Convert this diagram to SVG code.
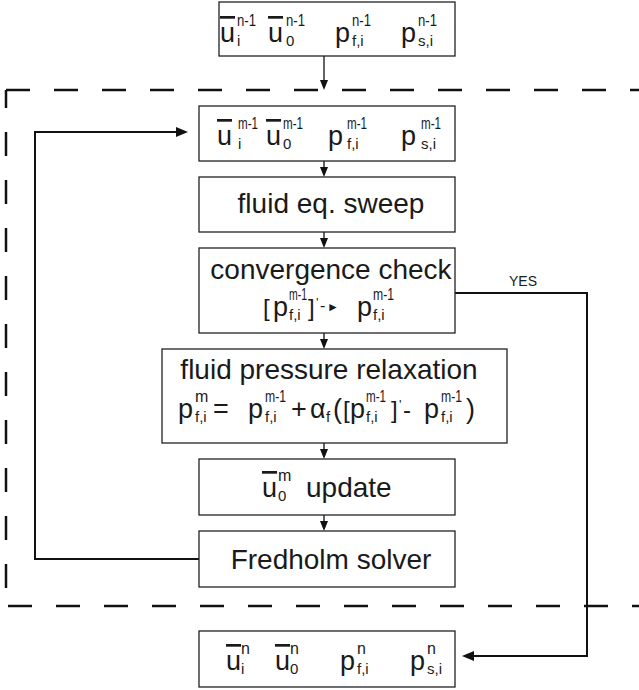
<svg xmlns="http://www.w3.org/2000/svg" width="639" height="690" viewBox="0 0 639 690">
<defs>
<style>
.box{fill:#fff;stroke:#222;stroke-width:1.3}
.t{font-family:"Liberation Sans",Arial,sans-serif;fill:#1a1a1a}
.lg{font-size:28px}
.v{font-size:27px}
.ov{text-decoration:overline}
.sp{font-size:16px}
.sb{font-size:15px}
.br{font-size:24px}
.c{fill:none;stroke:#111;stroke-width:1.3}
.ct{fill:none;stroke:#111;stroke-width:2}
.d{fill:none;stroke:#111;stroke-width:2.5;stroke-dasharray:24 24}
</style>
<marker id="ah" markerWidth="10" markerHeight="8" refX="7" refY="4" orient="auto" markerUnits="userSpaceOnUse"><path d="M0,0 L10,4 L0,8 z" fill="#111"/></marker>
<marker id="ahb" markerWidth="12" markerHeight="10" refX="8" refY="5" orient="auto" markerUnits="userSpaceOnUse"><path d="M0,0 L12,5 L0,10 z" fill="#111"/></marker>
</defs>
<rect width="639" height="690" fill="#fff"/>

<g id="iteration-boundary">
<path class="d" d="M6,90 H639"/>
<path class="d" d="M6,90 V606" stroke-dashoffset="6"/>
<path class="d" d="M8,606 H639"/>
</g>

<g id="connectors">
<path class="c" d="M324,56 V87" marker-end="url(#ah)"/>
<path class="c" d="M324,161 V174" marker-end="url(#ah)"/>
<path class="c" d="M324,232 V245" marker-end="url(#ah)"/>
<path class="c" d="M324,333 V346" marker-end="url(#ah)"/>
<path class="c" d="M324,443 V456" marker-end="url(#ah)"/>
<path class="c" d="M324,515 V528" marker-end="url(#ah)"/>
<path class="ct" d="M199,559 H35 V132 H184" marker-end="url(#ahb)"/>
<path class="ct" d="M455,293 H587 V656 H466" marker-end="url(#ahb)"/>
<text class="t" x="523" y="286" font-size="14" text-anchor="middle">YES</text>
</g>

<g id="state-n-1">
<rect class="box" x="219" y="2" width="236" height="54"/>
<text class="t v ov" x="220" y="42">u</text>
<text class="t sp" x="237" y="26" textLength="19" lengthAdjust="spacingAndGlyphs">n-1</text>
<text class="t sb" x="237" y="46">i</text>
<text class="t v ov" x="268" y="42">u</text>
<text class="t sp" x="286" y="26" textLength="19" lengthAdjust="spacingAndGlyphs">n-1</text>
<text class="t sb" x="286" y="46">0</text>
<text class="t v" x="335" y="42">p</text>
<text class="t sp" x="352" y="26" textLength="19" lengthAdjust="spacingAndGlyphs">n-1</text>
<text class="t sb" x="352" y="46">f,i</text>
<text class="t v" x="401" y="42">p</text>
<text class="t sp" x="418" y="26" textLength="19" lengthAdjust="spacingAndGlyphs">n-1</text>
<text class="t sb" x="418" y="46">s,i</text>
</g>

<g id="state-m-1">
<rect class="box" x="199" y="106" width="256" height="55"/>
<text class="t v ov" x="217" y="145">u</text>
<text class="t sp" x="238" y="129" textLength="20" lengthAdjust="spacingAndGlyphs">m-1</text>
<text class="t sb" x="238" y="149">i</text>
<text class="t v ov" x="266" y="145">u</text>
<text class="t sp" x="283" y="129" textLength="20" lengthAdjust="spacingAndGlyphs">m-1</text>
<text class="t sb" x="283" y="149">0</text>
<text class="t v" x="328" y="145">p</text>
<text class="t sp" x="347" y="129" textLength="20" lengthAdjust="spacingAndGlyphs">m-1</text>
<text class="t sb" x="347" y="149">f,i</text>
<text class="t v" x="401" y="145">p</text>
<text class="t sp" x="421" y="129" textLength="20" lengthAdjust="spacingAndGlyphs">m-1</text>
<text class="t sb" x="421" y="149">s,i</text>
</g>

<g id="fluid-sweep">
<rect class="box" x="199" y="177" width="256" height="55"/>
<text class="t lg" x="331" y="213" text-anchor="middle">fluid eq. sweep</text>
</g>

<g id="convergence-check">
<rect class="box" x="199" y="248" width="256" height="85"/>
<text class="t lg" x="331" y="279" text-anchor="middle">convergence check</text>
<text class="t br" x="263" y="316">[</text>
<text class="t v" x="273" y="316">p</text>
<text class="t sp" x="289" y="300" textLength="18" lengthAdjust="spacingAndGlyphs">m-1</text>
<text class="t sb" x="289" y="320">f,i</text>
<text class="t br" x="308" y="316">]</text>
<text class="t" x="316" y="307" font-size="13">'</text>
<text class="t" x="320" y="311" font-size="16">-</text>
<text class="t" x="327" y="311" font-size="12" font-family="DejaVu Sans">►</text>
<text class="t v" x="357" y="316">p</text>
<text class="t sp" x="373" y="300" textLength="21" lengthAdjust="spacingAndGlyphs">m-1</text>
<text class="t sb" x="373" y="320">f,i</text>
</g>

<g id="pressure-relaxation">
<rect class="box" x="162" y="349" width="345" height="94"/>
<text class="t lg" x="329" y="379" text-anchor="middle">fluid pressure relaxation</text>
<text class="t v" x="178" y="418">p</text>
<text class="t sp" x="195" y="402">m</text>
<text class="t sb" x="195" y="422">f,i</text>
<text class="t v" x="213" y="418">=</text>
<text class="t v" x="248" y="418">p</text>
<text class="t sp" x="265" y="402" textLength="21" lengthAdjust="spacingAndGlyphs">m-1</text>
<text class="t sb" x="265" y="422">f,i</text>
<text class="t v" x="291" y="418">+</text>
<text class="t v" x="310" y="418">α</text>
<text class="t sb" x="326" y="422">f</text>
<text class="t v" x="333" y="418">(</text>
<text class="t br" x="343" y="418">[</text>
<text class="t v" x="350" y="418">p</text>
<text class="t sp" x="366" y="402" textLength="20" lengthAdjust="spacingAndGlyphs">m-1</text>
<text class="t sb" x="366" y="422">f,i</text>
<text class="t br" x="391" y="418">]</text>
<text class="t" x="399" y="409" font-size="13">'</text>
<text class="t" x="403" y="418" font-size="24">-</text>
<text class="t v" x="424" y="418">p</text>
<text class="t sp" x="441" y="402" textLength="21" lengthAdjust="spacingAndGlyphs">m-1</text>
<text class="t sb" x="441" y="422">f,i</text>
<text class="t v" x="466" y="418">)</text>
</g>

<g id="u0-update">
<rect class="box" x="199" y="459" width="256" height="56"/>
<text class="t v ov" x="262" y="497">u</text>
<text class="t sp" x="278" y="481">m</text>
<text class="t sb" x="278" y="501">0</text>
<text class="t lg" x="306" y="497">update</text>
</g>

<g id="fredholm-solver">
<rect class="box" x="199" y="531" width="256" height="56"/>
<text class="t lg" x="331" y="569" text-anchor="middle">Fredholm solver</text>
</g>

<g id="state-n">
<rect class="box" x="199" y="631" width="256" height="56"/>
<text class="t v ov" x="226" y="670">u</text>
<text class="t sp" x="241" y="654">n</text>
<text class="t sb" x="241" y="674">i</text>
<text class="t v ov" x="275" y="670">u</text>
<text class="t sp" x="290" y="654">n</text>
<text class="t sb" x="290" y="674">0</text>
<text class="t v" x="340" y="670">p</text>
<text class="t sp" x="357" y="654">n</text>
<text class="t sb" x="357" y="674">f,i</text>
<text class="t v" x="410" y="670">p</text>
<text class="t sp" x="427" y="654">n</text>
<text class="t sb" x="427" y="674">s,i</text>
</g>
</svg>
